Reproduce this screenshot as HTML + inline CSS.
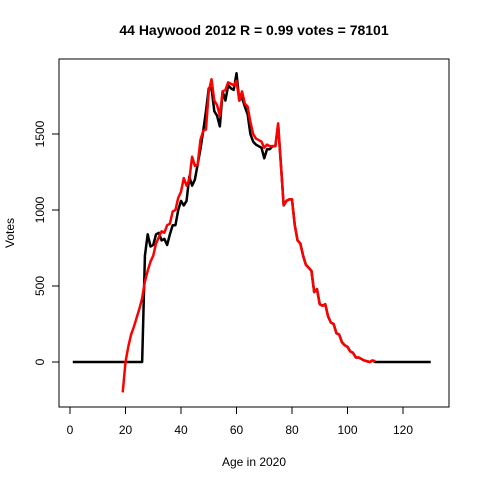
<!DOCTYPE html>
<html><head><meta charset="utf-8"><style>
body{margin:0;background:#fff}
svg{font-family:"Liberation Sans",Arial,sans-serif}
</style></head><body>
<svg id="chart" width="480" height="480">
<text x="254" y="35" text-anchor="middle" font-size="14" font-weight="bold">44 Haywood 2012 R = 0.99 votes = 78101</text>
<rect x="59" y="59" width="390" height="348" fill="none" stroke="#000"/>
<g id="xaxis"></g>
<g id="yaxis"></g>
<text x="254" y="466" text-anchor="middle" font-size="12">Age in 2020</text>
<text transform="translate(14,233) rotate(-90)" text-anchor="middle" font-size="12">Votes</text>
<g id="series"></g>
</svg>
<script>
const xTicks=[0,20,40,60,80,100,120];
const yTicks=[0,500,1000,1500];
const blackAges=[];for(let a=1;a<=131;a++)blackAges.push(a);
const blackVals=[0,0,0,0,0,0,0,0,0,0,0,0,0,0,0,0,0,0,0,0,0,0,0,0,0,0,
700,840,760,770,840,850,800,810,770,840,900,900,1000,1060,1030,1060,1220,1160,1200,1300,1400,1520,1650,1800,1800,1650,1620,1550,1780,1720,1820,1800,1790,1900,1720,1740,1680,1630,1500,1450,1430,1420,1410,1340,1400,1400,1420,1420,1560,1300,1030,1060,1070,1070,900,800,780,700,640,620,600,460,480,380,370,380,300,260,250,190,180,130,110,100,70,60,30,30,20,10,5,0,10,
0,0,0,0,0,0,0,0,0,0,0,0,0,0,0,0,0,0,0,0,0];
const redAges=[];for(let a=19;a<=110;a++)redAges.push(a);
const redVals=[-200,0,100,180,230,290,350,420,530,600,660,700,780,820,860,850,900,910,990,1000,1080,1120,1210,1160,1200,1350,1290,1300,1460,1520,1530,1780,1860,1720,1690,1620,1780,1790,1840,1830,1820,1850,1720,1780,1700,1680,1580,1500,1470,1460,1450,1410,1430,1420,1420,1420,1570,1300,1030,1060,1070,1070,900,800,780,700,640,620,600,460,480,380,370,380,300,260,250,190,180,130,110,100,70,60,30,30,20,10,5,0,10,5];
const xs=a=>70+a*2.775, ys=v=>362-v*0.152;
const NS="http://www.w3.org/2000/svg";
const xa=document.getElementById('xaxis'),ya=document.getElementById('yaxis'),sg=document.getElementById('series');
function mk(t,at,p){const e=document.createElementNS(NS,t);for(const k in at)e.setAttribute(k,at[k]);p.appendChild(e);return e;}
mk('line',{x1:xs(xTicks[0]),x2:xs(xTicks[xTicks.length-1]),y1:407,y2:407,stroke:'#000'},xa);
xTicks.forEach(t=>{
 const l=mk('line',{x1:xs(t),x2:xs(t),y1:407,y2:414,stroke:'#000'},xa);
 
 
 const tx=mk('text',{x:xs(t),y:434,'text-anchor':'middle','font-size':12},xa);tx.textContent=t;
 
 
});
mk('line',{x1:59,x2:59,y1:ys(yTicks[0]),y2:ys(yTicks[yTicks.length-1]),stroke:'#000'},ya);
yTicks.forEach(t=>{
 const l=mk('line',{x1:52,x2:59,y1:ys(t),y2:ys(t),stroke:'#000'},ya);
 
 
 const tx=mk('text',{transform:`translate(44,${ys(t)}) rotate(-90)`,'text-anchor':'middle','font-size':12},ya);tx.textContent=t;
 
 
});
function line(ages,vals,col,name){
 const n=Math.min(ages.length,vals.length);
 const p=mk('polyline',{points:ages.slice(0,n).map((a,i)=>xs(a)+','+ys(vals[i])).join(' '),fill:'none',stroke:col,'stroke-width':2.5,'stroke-linejoin':'round'},sg);
 
 
}
line(blackAges,blackVals,'#000','actual-votes-line');
line(redAges,redVals,'#f00','predicted-votes-line');
</script>
</body></html>
